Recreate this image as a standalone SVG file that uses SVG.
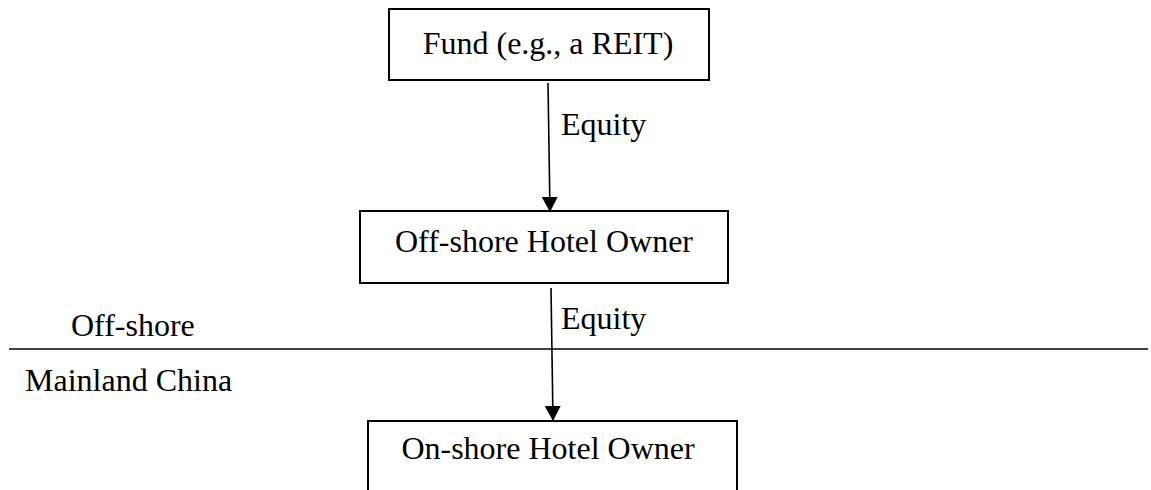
<svg xmlns="http://www.w3.org/2000/svg" width="1151" height="490" viewBox="0 0 1151 490">
  <style>
    .box { fill: #ffffff; stroke: #000000; stroke-width: 2; }
    .label { font-family: "Liberation Serif", "Times New Roman", serif; font-size: 32px; fill: #000000; }
    .center { text-anchor: middle; }
    .edge { stroke: #000000; stroke-width: 1.6; fill: none; marker-end: url(#arrow); }
    .divider { stroke: #000000; stroke-width: 1.6; }
  </style>
  <defs>
    <marker id="arrow" markerUnits="userSpaceOnUse" markerWidth="16" markerHeight="16" viewBox="0 0 16 16" refX="15" refY="8" orient="auto">
      <path d="M0,0 L15,8 L0,16 Z" fill="#000000"/>
    </marker>
  </defs>
  <rect width="1151" height="490" fill="#ffffff"/>

  <!-- jurisdiction divider -->
  <g id="divider">
    <line class="divider" x1="9" y1="349" x2="1148" y2="349"/>
    <text class="label" x="71" y="336">Off-shore</text>
    <text class="label" x="25" y="391">Mainland China</text>
  </g>

  <g id="fund">
    <rect class="box" x="389" y="9" width="320" height="71"/>
    <text class="label center" x="548" y="54">Fund (e.g., a REIT)</text>
  </g>

  <g id="offshore-owner">
    <rect class="box" x="360" y="211" width="368" height="72"/>
    <text class="label center" x="544" y="252">Off-shore Hotel Owner</text>
  </g>

  <g id="onshore-owner">
    <rect class="box" x="368" y="421" width="369" height="80"/>
    <text class="label center" x="548" y="459">On-shore Hotel Owner</text>
  </g>

  <!-- connectors, drawn last so the arrowheads sit on the box edges -->
  <g id="connectors">
    <line class="edge" x1="548" y1="83" x2="550" y2="212"/>
    <text class="label" x="561" y="135">Equity</text>
    <line class="edge" x1="551" y1="288" x2="553" y2="421"/>
    <text class="label" x="561" y="329">Equity</text>
  </g>
</svg>
